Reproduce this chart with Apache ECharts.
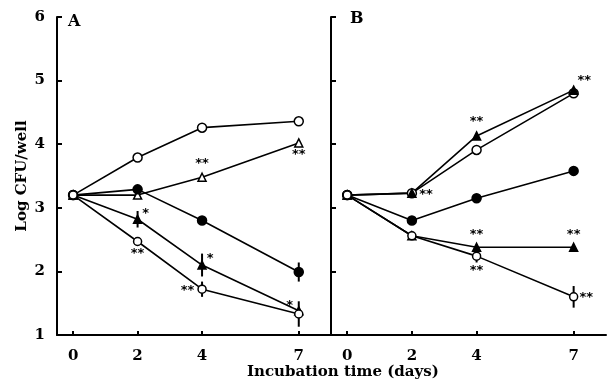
<!DOCTYPE html>
<html>
<head>
<meta charset="utf-8">
<script src="https://cdn.jsdelivr.net/npm/echarts@6/dist/echarts.min.js"></script>
<style>
html, body { margin: 0; padding: 0; background: #fff; }
#chart { width: 607px; height: 384px; }
</style>
</head>
<body>
<div id="chart"></div>
<script>
// x positions (days) and y ticks
var days = [0, 2, 4, 7];
var yTicks = [1, 2, 3, 4, 5, 6];

// panel A (log CFU/well)
var aOpenCircle = [3.2, 3.79, 4.26, 4.36];
var aOpenTri = [3.2, 3.2, 3.48, 4.02];
var aFillCircle = [3.2, 3.29, 2.8, 1.99];
var aFillTri = [3.2, 2.82, 2.1, 1.38];
var aSmallCircle = [3.2, 2.47, 1.72, 1.33];

// panel B
var bOpenCircle = [3.2, 3.23, 3.91, 4.8];
var bTri = [3.2, 3.23, 4.13, 4.85];
var bFillCircle = [3.2, 2.8, 3.15, 3.58];
var bFillTri = [3.2, 2.56, 2.38, 2.38];
var bSmallCircle = [3.2, 2.56, 2.24, 1.6];

// error (+/-) where a bar is visible
var aFillCircleErr = [0, 0, 0, 0.15];
var aFillTriErr = [0, 0.13, 0.18, 0];
var aSmallCircleErr = [0, 0, 0.12, 0.2];
var bSmallCircleErr = [0, 0, 0.1, 0.17];

// significance marks
var aOpenTriStars = ['', '', '**', '**'];
var aFillTriStars = ['', '*', '*', '*'];
var aSmallCircleStars = ['', '**', '**', ''];
var bOpenCircleStars = ['', '**', '', ''];
var bTriStars = ['', '', '**', '**'];
var bFillTriStars = ['', '', '**', '**'];
var bSmallCircleStars = ['', '', '**', '**'];

// where each mark sits relative to its point (style only)
var starPlace = {
  aOpenTri: [null, null, ['top', [0, 1]], ['bottom', [0, -3]]],
  aFillTri: [null, ['right', [-3, -6]], ['right', [-3, -6]], ['left', [2, -5]]],
  aSmallCircle: [null, ['bottom', [0, -2]], ['left', [0, 1]], null],
  bOpenCircle: [null, ['right', [-1, 1]], null, null],
  bTri: [null, null, ['top', [0, 0]], ['right', [-4, -10]]],
  bFillTri: [null, null, ['top', [0, 2]], ['top', [0, 2]]],
  bSmallCircle: [null, null, ['bottom', [0, 0]], ['right', [-2, 1]]]
};

var serif = 'DejaVu Serif';
var dom = document.getElementById('chart');
var myChart = echarts.init(dom);

function makeLine(xi, vals, stars, place, symbol, fill, size) {
  var data = [];
  for (var i = 0; i < days.length; i++) {
    var item = { value: [days[i], vals[i]] };
    if (stars && stars[i]) {
      item.label = {
        show: true,
        formatter: stars[i],
        position: place[i][0],
        offset: place[i][1],
        distance: 3,
        color: '#000',
        fontFamily: 'DejaVu Sans',
        fontWeight: 'bold',
        fontSize: 13
      };
    }
    data.push(item);
  }
  return {
    type: 'line',
    xAxisIndex: xi,
    yAxisIndex: xi,
    data: data,
    symbol: symbol,
    symbolSize: size || 8,
    showAllSymbol: true,
    itemStyle: { color: fill, borderColor: '#000', borderWidth: 1.5 },
    lineStyle: { color: '#000', width: 1.6 },
    label: { show: false },
    z: 3,
    animation: false
  };
}

function makeErr(xi, vals, err) {
  var rows = [];
  for (var i = 0; i < days.length; i++) {
    if (err[i] > 0) rows.push([days[i], vals[i] - err[i], vals[i] + err[i]]);
  }
  return {
    type: 'custom',
    xAxisIndex: xi,
    yAxisIndex: xi,
    data: rows,
    z: 2,
    animation: false,
    renderItem: function (params, api) {
      var p1 = api.coord([api.value(0), api.value(1)]);
      var p2 = api.coord([api.value(0), api.value(2)]);
      return {
        type: 'line',
        shape: { x1: p1[0], y1: p1[1], x2: p2[0], y2: p2[1] },
        style: { stroke: '#000', lineWidth: 2 }
      };
    }
  };
}

function xAxisFor(gi) {
  return {
    type: 'value',
    gridIndex: gi,
    min: -0.5,
    max: 8,
    axisLine: { onZero: false, lineStyle: { color: '#000', width: 2 } },
    axisTick: { show: true, inside: true, length: 4, customValues: days, lineStyle: { color: '#000', width: 2 } },
    axisLabel: { customValues: days, color: '#000', fontFamily: serif, fontWeight: 'bold', fontSize: 15, margin: 14 },
    splitLine: { show: false }
  };
}

function yAxisFor(gi, showLabels) {
  return {
    type: 'value',
    gridIndex: gi,
    min: 1,
    max: 6,
    interval: 1,
    name: showLabels ? 'Log CFU/well' : '',
    nameLocation: 'middle',
    nameGap: 27,
    nameRotate: 90,
    nameTextStyle: { color: '#000', fontFamily: serif, fontWeight: 'bold', fontSize: 15 },
    axisLine: { show: true, onZero: false, lineStyle: { color: '#000', width: 2 } },
    axisTick: { show: true, inside: true, length: 5, lineStyle: { color: '#000', width: 2 } },
    axisLabel: { show: showLabels, color: '#000', fontFamily: serif, fontWeight: 'bold', fontSize: 15, margin: 12 },
    splitLine: { show: false }
  };
}

option = {
  backgroundColor: '#fff',
  animation: false,
  grid: [
    { left: 57, top: 17, width: 274, height: 318 },
    { left: 331, top: 17, width: 275, height: 318 }
  ],
  xAxis: [xAxisFor(0), xAxisFor(1)],
  yAxis: [yAxisFor(0, true), yAxisFor(1, false)],
  graphic: [
    { type: 'text', left: 68, top: 14, style: { text: 'A', fill: '#000', font: 'bold 16px "DejaVu Serif"' } },
    { type: 'text', left: 350, top: 11, style: { text: 'B', fill: '#000', font: 'bold 16px "DejaVu Serif"' } },
    { type: 'text', left: 247, top: 365, style: { text: 'Incubation time (days)', fill: '#000', font: 'bold 15px "DejaVu Serif"' } }
  ],
  series: [
    makeErr(0, aFillCircle, aFillCircleErr),
    makeErr(0, aFillTri, aFillTriErr),
    makeErr(0, aSmallCircle, aSmallCircleErr),
    makeErr(1, bSmallCircle, bSmallCircleErr),
    makeLine(0, aOpenCircle, null, null, 'circle', '#fff', 9),
    makeLine(0, aOpenTri, aOpenTriStars, starPlace.aOpenTri, 'triangle', '#fff', 8),
    makeLine(0, aFillCircle, null, null, 'circle', '#000', 9),
    makeLine(0, aFillTri, aFillTriStars, starPlace.aFillTri, 'triangle', '#000', 8),
    makeLine(0, aSmallCircle, aSmallCircleStars, starPlace.aSmallCircle, 'circle', '#fff', 8),
    makeLine(1, bOpenCircle, bOpenCircleStars, starPlace.bOpenCircle, 'circle', '#fff', 9),
    makeLine(1, bTri, bTriStars, starPlace.bTri, 'triangle', '#000', 8),
    makeLine(1, bFillCircle, null, null, 'circle', '#000', 9),
    makeLine(1, bFillTri, bFillTriStars, starPlace.bFillTri, 'triangle', '#000', 8),
    makeLine(1, bSmallCircle, bSmallCircleStars, starPlace.bSmallCircle, 'circle', '#fff', 8)
  ]
};

if (option && typeof option === 'object') {
  myChart.setOption(option, true);
}
</script>
</body>
</html>
